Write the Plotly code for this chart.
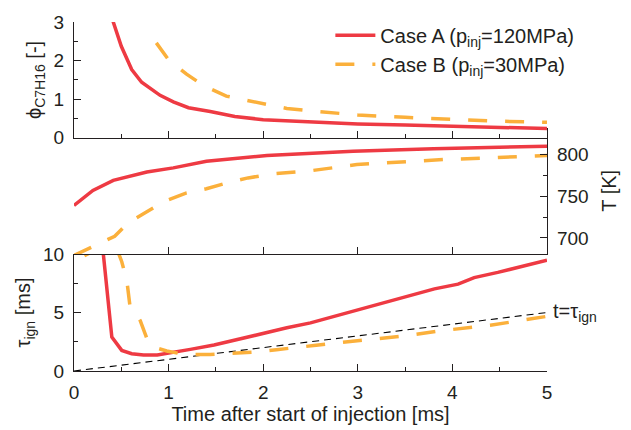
import plotly.graph_objects as go

# ---------------- data ----------------
# top panel: equivalence ratio phi_C7H16 [-]
phi_a_t = [0.36, 0.415, 0.50, 0.61, 0.715, 0.91, 1.05, 1.21, 1.44, 1.70, 2.0, 2.5, 3.0, 3.5, 4.0, 4.5, 5.0]
phi_a   = [3.6, 3.0, 2.37, 1.77, 1.44, 1.10, 0.93, 0.78, 0.68, 0.55, 0.47, 0.41, 0.36, 0.33, 0.30, 0.26, 0.24]
phi_b_t = [0.87, 1.0, 1.19, 1.37, 1.61, 1.81, 2.05, 2.25, 2.5, 3.0, 3.5, 4.0, 4.5, 5.0]
phi_b   = [2.46, 2.02, 1.65, 1.35, 1.08, 0.98, 0.85, 0.76, 0.70, 0.59, 0.53, 0.47, 0.43, 0.40]

# middle panel: temperature T [K]
T_a_t = [0.0, 0.2, 0.415, 0.77, 1.05, 1.40, 2.04, 2.95, 3.8, 5.0]
T_a   = [739, 757, 769, 779, 784, 792, 799, 804, 807, 810]
T_b_t = [0.0, 0.2, 0.43, 0.57, 0.79, 0.96, 1.19, 1.40, 1.65, 1.84, 2.11, 2.53, 2.99, 3.45, 3.9, 4.4, 5.0]
T_b   = [679, 690, 702, 718, 733, 744, 754, 759, 767, 772, 777, 781, 788, 791, 794, 796, 799]

# bottom panel: ignition delay tau_ign [ms]
tau_a_t = [0.28, 0.31, 0.40, 0.505, 0.61, 0.735, 0.88, 1.02, 1.23, 1.48, 1.72, 2.0, 2.25, 2.5, 3.0, 3.24, 3.49,
           3.81, 4.06, 4.23, 4.48, 4.73, 5.0]
tau_a   = [12.0, 10.0, 2.9, 1.76, 1.48, 1.37, 1.37, 1.54, 1.85, 2.22, 2.69, 3.26, 3.69, 4.11, 5.24, 5.8, 6.37,
           7.02, 7.42, 7.98, 8.43, 8.9, 9.47]
tau_b_t = [0.11, 0.31, 0.45, 0.505, 0.56, 0.59, 0.70, 0.785, 0.88, 0.98, 1.1, 1.23, 1.44, 1.68, 1.88, 2.14,
           2.35, 2.56, 3.02, 3.48, 3.9, 4.4, 5.0]
tau_b   = [9.85, 10.7, 10.5, 9.34, 7.64, 5.66, 4.31, 2.47, 1.95, 1.71, 1.52, 1.42, 1.42, 1.48, 1.6, 1.82,
           1.99, 2.2, 2.61, 2.98, 3.46, 3.91, 4.67]

# reference line t = tau_ign
ref_t = [0.0, 5.0]
ref_tau = [0.0, 5.0]

names = ["Case A (p<sub>inj</sub>=120MPa)", "Case B (p<sub>inj</sub>=30MPa)"]

# ---------------- style ----------------
RED = "#EE3A43"
ORANGE = "#FBB03B"
AX = "#231f20"
FONT = "Liberation Sans, Arial, sans-serif"
FS = 19
FT = 20
dashB = "19px,18px"

fig = go.Figure()
fig.add_trace(go.Scatter(x=phi_a_t, y=phi_a, xaxis="x2", yaxis="y2", mode="lines", name=names[0],
                         line=dict(color=RED, width=3.5), legendgroup="a"))
fig.add_trace(go.Scatter(x=phi_b_t, y=phi_b, xaxis="x2", yaxis="y2", mode="lines", name=names[1],
                         line=dict(color=ORANGE, width=3.5, dash=dashB), legendgroup="b"))
fig.add_trace(go.Scatter(x=T_a_t, y=T_a, xaxis="x3", yaxis="y3", mode="lines", showlegend=False,
                         line=dict(color=RED, width=3.5)))
fig.add_trace(go.Scatter(x=T_b_t, y=T_b, xaxis="x3", yaxis="y3", mode="lines", showlegend=False,
                         line=dict(color=ORANGE, width=3.5, dash=dashB)))
fig.add_trace(go.Scatter(x=ref_t, y=ref_tau, xaxis="x", yaxis="y", mode="lines", showlegend=False,
                         line=dict(color="black", width=1.1, dash="7px,5px")))
fig.add_trace(go.Scatter(x=tau_a_t, y=tau_a, xaxis="x", yaxis="y", mode="lines", showlegend=False,
                         line=dict(color=RED, width=3.5)))
fig.add_trace(go.Scatter(x=tau_b_t, y=tau_b, xaxis="x", yaxis="y", mode="lines", showlegend=False,
                         line=dict(color=ORANGE, width=3.5, dash=dashB)))

W, H = 631, 430
mt, mb, ml, mr = 20, 56.5, 74, 83.7
ph = H - mt - mb


def frac(ypix):
    return (H - mb - ypix) / ph


tfont = dict(family=FONT, size=FS, color=AX)
titlefont = dict(family=FONT, size=FT, color=AX)
axcommon = dict(showline=True, linecolor=AX, linewidth=1.3, ticks="inside", tickcolor=AX, tickwidth=1.3,
                ticklen=7, showgrid=False, zeroline=False, tickfont=tfont)
minor_style = dict(ticks="inside", ticklen=4, tickcolor=AX, tickwidth=1.3)

fig.update_layout(
    width=W, height=H,
    margin=dict(l=ml, r=mr, t=mt, b=mb, pad=0),
    paper_bgcolor="white", plot_bgcolor="rgba(0,0,0,0)",
    font=dict(family=FONT, size=FS, color=AX),
    showlegend=True,
    legend=dict(x=0.542, y=1.018, xanchor="left", yanchor="top", bgcolor="rgba(0,0,0,0)",
                font=dict(family=FONT, size=FT, color=AX), tracegroupgap=0, itemwidth=40),
    xaxis=dict(domain=[0, 1], range=[0, 5], anchor="y", dtick=1, tick0=0, ticklabelstandoff=4,
               minor=dict(dtick=0.5, **minor_style),
               title=dict(text="Time after start of injection [ms]", font=titlefont, standoff=1),
               **axcommon),
    yaxis=dict(domain=[0, frac(255)], range=[0, 10], anchor="x", tickvals=[0, 5, 10], ticklabelstandoff=5,
               minor=dict(tickvals=[2.5, 7.5], **minor_style),
               title=dict(text="τ<sub>ign</sub> [ms]", font=titlefont, standoff=6),
               **axcommon),
    xaxis2=dict(domain=[0, 1], range=[0, 5], anchor="y2", dtick=1, tick0=0, showticklabels=False,
                minor=dict(dtick=0.5, **minor_style),
                **axcommon),
    yaxis2=dict(domain=[frac(137.3), 1], range=[0, 3], anchor="x2", tickvals=[0, 1, 2, 3], ticklabelstandoff=5,
                minor=dict(tickvals=[0.5, 1.5, 2.5], **minor_style),
                title=dict(text="ϕ<sub>C7H16</sub> [-]", font=titlefont, standoff=6),
                **axcommon),
    xaxis3=dict(domain=[0, 1], range=[0, 5], anchor="y3", dtick=1, tick0=0, showticklabels=False,
                **axcommon),
    yaxis3=dict(domain=[frac(255), frac(127)], range=[680.7, 832.3], anchor="x3", side="right",
                tickvals=[700, 750, 800], ticklabelstandoff=5,
                minor=dict(tickvals=[725, 775], **minor_style),
                title=dict(text="T [K]", font=titlefont, standoff=14),
                **axcommon),
    annotations=[dict(x=1.008, y=5.0, xref="paper", yref="y", xanchor="left", yanchor="middle", showarrow=False,
                      text="t=τ<sub>ign</sub>", font=titlefont)],
)

fig.write_html("out.html")
